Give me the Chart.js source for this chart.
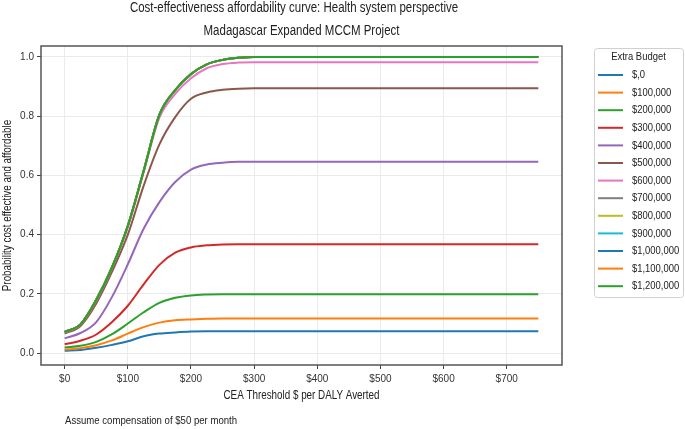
<!DOCTYPE html>
<html>
<head>
<meta charset="utf-8">
<script src="https://cdn.jsdelivr.net/npm/chart.js@4"></script>
<style>
  html, body { margin: 0; padding: 0; background: #fff; }
  canvas { display: block; }
</style>
</head>
<body>
<canvas id="ceac" width="685" height="429"></canvas>
<script>
// CEA threshold ($ per DALY averted), sampled every $25
const thresholds = [0, 25, 50, 75, 100, 125, 150, 175, 200, 225, 250, 275, 300, 325, 350, 375,
  400, 425, 450, 475, 500, 525, 550, 575, 600, 625, 650, 675, 700, 725, 750];

const budgets = ["$,0", "$100,000", "$200,000", "$300,000", "$400,000", "$500,000", "$600,000",
  "$700,000", "$800,000", "$900,000", "$1,000,000", "$1,100,000", "$1,200,000"];

const budget0 = [0.008, 0.011, 0.018, 0.028, 0.040, 0.057, 0.066, 0.070, 0.073, 0.074, 0.074, 0.074, 0.074, 0.074, 0.074, 0.074,
  0.074, 0.074, 0.074, 0.074, 0.074, 0.074, 0.074, 0.074, 0.074, 0.074, 0.074, 0.074, 0.074, 0.074, 0.074];
const budget100k = [0.012, 0.017, 0.027, 0.043, 0.066, 0.088, 0.103, 0.111, 0.114, 0.116, 0.117, 0.117, 0.117, 0.117, 0.117, 0.117,
  0.117, 0.117, 0.117, 0.117, 0.117, 0.117, 0.117, 0.117, 0.117, 0.117, 0.117, 0.117, 0.117, 0.117, 0.117];
const budget200k = [0.019, 0.025, 0.038, 0.064, 0.100, 0.138, 0.170, 0.187, 0.195, 0.198, 0.199, 0.199, 0.199, 0.199, 0.199, 0.199,
  0.199, 0.199, 0.199, 0.199, 0.199, 0.199, 0.199, 0.199, 0.199, 0.199, 0.199, 0.199, 0.199, 0.199, 0.199];
const budget300k = [0.030, 0.042, 0.063, 0.105, 0.160, 0.232, 0.298, 0.339, 0.357, 0.364, 0.367, 0.368, 0.368, 0.368, 0.368, 0.368,
  0.368, 0.368, 0.368, 0.368, 0.368, 0.368, 0.368, 0.368, 0.368, 0.368, 0.368, 0.368, 0.368, 0.368, 0.368];
const budget400k = [0.050, 0.068, 0.105, 0.190, 0.300, 0.420, 0.510, 0.578, 0.620, 0.637, 0.643, 0.646, 0.646, 0.646, 0.646, 0.646,
  0.646, 0.646, 0.646, 0.646, 0.646, 0.646, 0.646, 0.646, 0.646, 0.646, 0.646, 0.646, 0.646, 0.646, 0.646];
const budget500k = [0.066, 0.092, 0.168, 0.275, 0.400, 0.565, 0.705, 0.797, 0.859, 0.880, 0.889, 0.893, 0.894, 0.894, 0.894, 0.894,
  0.894, 0.894, 0.894, 0.894, 0.894, 0.894, 0.894, 0.894, 0.894, 0.894, 0.894, 0.894, 0.894, 0.894, 0.894];
const budget600k = [0.070, 0.096, 0.177, 0.287, 0.425, 0.610, 0.795, 0.875, 0.928, 0.962, 0.976, 0.981, 0.982, 0.982, 0.982, 0.982,
  0.982, 0.982, 0.982, 0.982, 0.982, 0.982, 0.982, 0.982, 0.982, 0.982, 0.982, 0.982, 0.982, 0.982, 0.982];
// $700k and above all sit on the same curve
const budgetHigh = [0.072, 0.097, 0.180, 0.290, 0.430, 0.615, 0.805, 0.888, 0.942, 0.975, 0.990, 0.997, 1.000, 1.000, 1.000, 1.000,
  1.000, 1.000, 1.000, 1.000, 1.000, 1.000, 1.000, 1.000, 1.000, 1.000, 1.000, 1.000, 1.000, 1.000, 1.000];

const series = [budget0, budget100k, budget200k, budget300k, budget400k, budget500k, budget600k,
  budgetHigh, budgetHigh, budgetHigh, budgetHigh, budgetHigh, budgetHigh];

const xTicks = [0, 100, 200, 300, 400, 500, 600, 700];
const yTicks = [0, 0.2, 0.4, 0.6, 0.8, 1.0];

const colors = ["#1f77b4", "#ff7f0e", "#2ca02c", "#d62728", "#9467bd", "#8c564b", "#e377c2",
  "#7f7f7f", "#bcbd22", "#17becf", "#1f77b4", "#ff7f0e", "#2ca02c"];

// pick a narrow face if one is installed, else squeeze Liberation Sans
const canvas = document.getElementById("ceac");
function installed(name) {
  const c = canvas.getContext("2d");
  c.font = "20px '" + name + "', monospace";
  const w1 = c.measureText("abcdefghij0123456789").width;
  c.font = "20px monospace";
  const w2 = c.measureText("abcdefghij0123456789").width;
  return w1 !== w2;
}
const narrow = installed("Liberation Sans Narrow");
const FONT = narrow ? "'Liberation Sans Narrow', sans-serif" : "'Liberation Sans', sans-serif";
const squeeze = narrow ? 1 : 0.82;
const tickSize = narrow ? 11 : 10;
Chart.defaults.font.family = FONT;
Chart.defaults.color = "#333";

function squeezedText(c, text, x, y, align, angle) {
  c.save();
  c.translate(x, y);
  if (angle) c.rotate(angle);
  c.scale(squeeze, 1);
  c.textAlign = align;
  c.fillText(text, 0, 0);
  c.restore();
}

// titles, axis titles, frame, legend box and footnote
const decorations = {
  id: "decorations",
  afterDraw(chart) {
    const c = chart.ctx;
    const a = chart.chartArea;
    const midX = (a.left + a.right) / 2;
    const midY = (a.top + a.bottom) / 2;
    c.save();
    c.strokeStyle = "#555";
    c.lineWidth = 1.5;
    c.strokeRect(a.left, a.top, a.right - a.left, a.bottom - a.top);

    c.fillStyle = "#222";
    c.textBaseline = "middle";
    c.font = "14px " + FONT;
    squeezedText(c, "Cost-effectiveness affordability curve: Health system perspective", 294, 8, "center");
    squeezedText(c, "Madagascar Expanded MCCM Project", midX, 31, "center");

    c.font = "12px " + FONT;
    squeezedText(c, "CEA Threshold $ per DALY Averted", midX, 396, "center");
    squeezedText(c, "Probability cost effective and affordable", 8, midY, "center", -Math.PI / 2);

    c.font = "11.7px " + FONT;
    squeezedText(c, "Assume compensation of $50 per month", 65, 421, "left");

    // legend
    const bx = 594, by = 48, bw = 89, bh = 249;
    c.fillStyle = "#fff";
    c.strokeStyle = "#d0d0d0";
    c.lineWidth = 1;
    c.beginPath();
    c.roundRect(bx + 0.5, by + 0.5, bw, bh, 3);
    c.fill();
    c.stroke();
    c.fillStyle = "#222";
    c.font = "11.5px " + FONT;
    squeezedText(c, "Extra Budget", bx + bw / 2, 57, "center");
    chart.data.datasets.forEach((ds, i) => {
      const y = 75 + i * 17.6;
      c.strokeStyle = ds.borderColor;
      c.lineWidth = 2;
      c.beginPath();
      c.moveTo(598, y);
      c.lineTo(623, y);
      c.stroke();
      c.fillStyle = "#222";
      squeezedText(c, ds.label, 632, y, "left");
    });
    c.restore();
  }
};

new Chart(canvas, {
  type: "line",
  data: {
    datasets: budgets.map((label, i) => ({
      label: label,
      data: thresholds.map((t, j) => ({ x: t, y: series[i][j] })),
      borderColor: colors[i],
      backgroundColor: colors[i],
      borderWidth: 2,
      pointRadius: 0,
      cubicInterpolationMode: "monotone",
      fill: false,
      order: budgets.length - i, // later budgets painted on top
    })),
  },
  options: {
    responsive: false,
    animation: false,
    events: [],
    layout: { padding: { top: 46, right: 123, bottom: 24, left: 0 } },
    plugins: {
      legend: { display: false },
      tooltip: { enabled: false },
    },
    scales: {
      x: {
        type: "linear",
        min: -37.5,
        max: 787.5,
        afterBuildTicks: (s) => { s.ticks = xTicks.map((v) => ({ value: v })); },
        afterFit: (s) => { s.height = 40; },
        ticks: {
          callback: (v) => "$" + v,
          font: { size: tickSize },
          color: "#333",
          padding: 4,
          maxRotation: 0,
        },
        grid: { color: "#ebebeb", tickColor: "#444", tickLength: 4 },
        border: { display: false },
      },
      y: {
        type: "linear",
        min: -0.04,
        max: 1.037,
        afterBuildTicks: (s) => { s.ticks = yTicks.map((v) => ({ value: v })); },
        afterFit: (s) => { s.width = 41; },
        ticks: {
          callback: (v) => v.toFixed(1),
          font: { size: tickSize },
          color: "#333",
          padding: 3,
        },
        grid: { color: "#ebebeb", tickColor: "#444", tickLength: 4 },
        border: { display: false },
      },
    },
  },
  plugins: [decorations],
});
</script>
</body>
</html>
